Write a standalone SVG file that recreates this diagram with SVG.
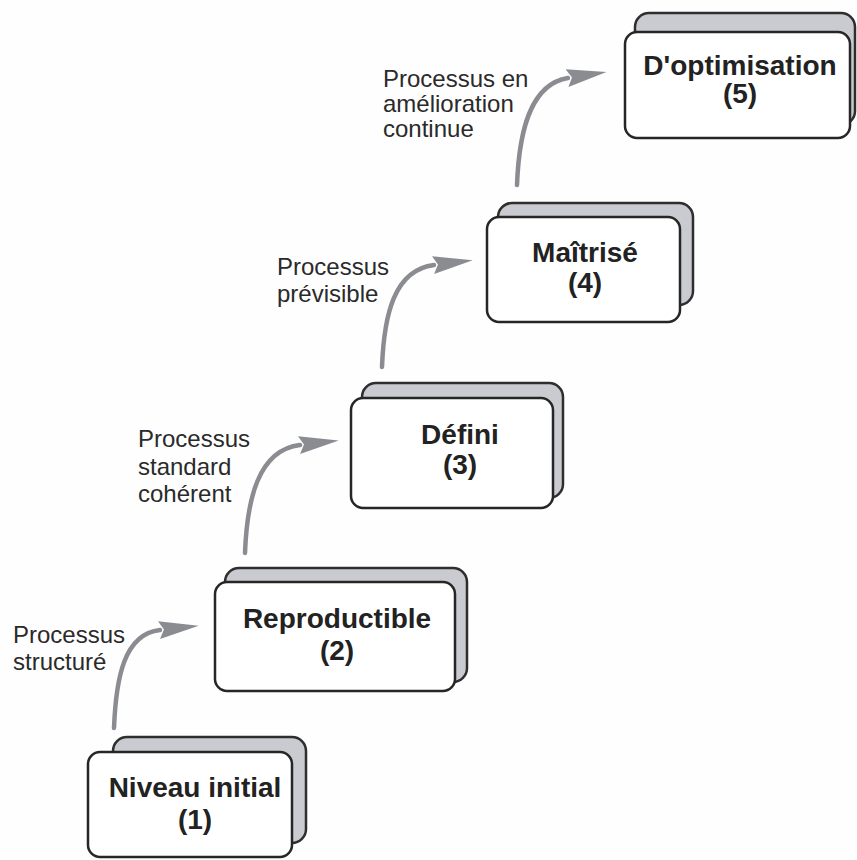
<svg xmlns="http://www.w3.org/2000/svg" width="857" height="860" viewBox="0 0 857 860">
  <style>
    .back { fill: #c9cbd0; stroke: #2e2e2e; stroke-width: 2.5; }
    .front { fill: #ffffff; stroke: #262626; stroke-width: 2.5; }
    .title { font-family: "Liberation Sans", Arial, sans-serif; font-weight: bold; font-size: 28px; fill: #222222; text-anchor: middle; }
    .label { font-family: "Liberation Sans", Arial, sans-serif; font-size: 24px; fill: #2a2a2a; }
    .arrow { fill: none; stroke: #8a8c92; stroke-width: 4.5; stroke-linecap: round; marker-end: url(#head); }
  </style>
  <defs>
    <marker id="head" markerUnits="userSpaceOnUse" markerWidth="44" markerHeight="22" refX="1" refY="10" orient="auto" viewBox="0 0 44 20">
      <path d="M0,1 L40,10 L0,19 L5,10 Z" fill="#8a8c92"/>
    </marker>
  </defs>

  <rect x="0" y="0" width="857" height="860" fill="#fefefe"/>

  <!-- connectors between maturity levels -->
  <g id="connectors">
    <path class="arrow" d="M114,728 C116,678 124,634 160,630"/>
    <path class="arrow" d="M245,553 C247,500 258,450 300,445"/>
    <path class="arrow" d="M382,367 C384,315 394,270 434,265"/>
    <path class="arrow" d="M517,185 C519,132 530,84 568,78"/>
  </g>

  <!-- transition labels -->
  <g id="labels">
    <text class="label" x="13" y="643">Processus</text>
    <text class="label" x="13" y="670">structuré</text>

    <text class="label" x="138" y="447">Processus</text>
    <text class="label" x="138" y="475">standard</text>
    <text class="label" x="138" y="502">cohérent</text>

    <text class="label" x="277" y="275">Processus</text>
    <text class="label" x="277" y="302">prévisible</text>

    <text class="label" x="383" y="87">Processus en</text>
    <text class="label" x="383" y="112">amélioration</text>
    <text class="label" x="383" y="137">continue</text>
  </g>

  <g id="level1">
    <rect class="back" x="113" y="737" width="193" height="106" rx="14"/>
    <rect class="front" x="88" y="752" width="204" height="105" rx="12"/>
    <text class="title" x="195" y="797">Niveau initial</text>
    <text class="title" x="195" y="829">(1)</text>
  </g>

  <g id="level2">
    <rect class="back" x="225" y="568" width="242" height="114" rx="14"/>
    <rect class="front" x="215" y="582" width="240" height="109" rx="12"/>
    <text class="title" x="337" y="628">Reproductible</text>
    <text class="title" x="337" y="660">(2)</text>
  </g>

  <g id="level3">
    <rect class="back" x="362" y="383" width="201" height="115" rx="14"/>
    <rect class="front" x="351" y="398" width="202" height="110" rx="12"/>
    <text class="title" x="460" y="444">Défini</text>
    <text class="title" x="460" y="474">(3)</text>
  </g>

  <g id="level4">
    <rect class="back" x="498" y="203" width="195" height="102" rx="14"/>
    <rect class="front" x="487" y="217" width="193" height="105" rx="12"/>
    <text class="title" x="585" y="262">Maîtrisé</text>
    <text class="title" x="585" y="292">(4)</text>
  </g>

  <g id="level5">
    <rect class="back" x="635" y="13" width="220" height="112" rx="14"/>
    <rect class="front" x="625" y="32" width="225" height="106" rx="12"/>
    <text class="title" x="740" y="75">D'optimisation</text>
    <text class="title" x="740" y="103">(5)</text>
  </g>
</svg>
